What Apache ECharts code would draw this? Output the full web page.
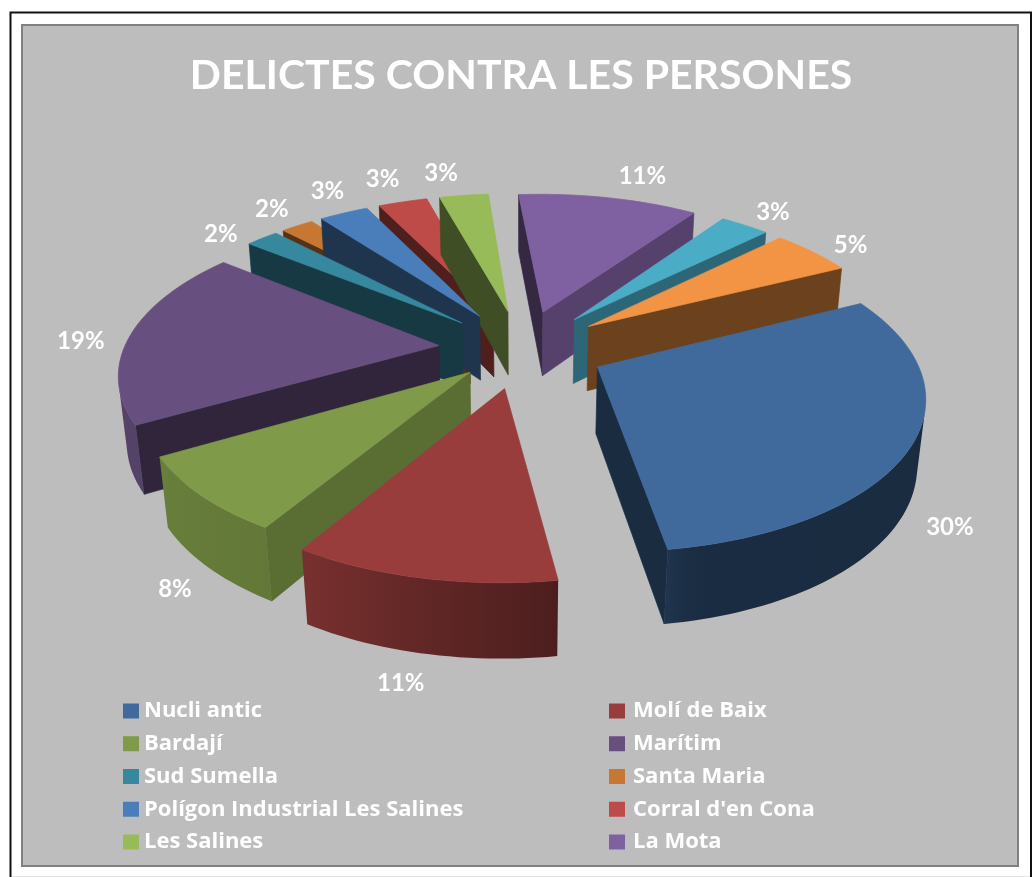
<!DOCTYPE html>
<html><head><meta charset="utf-8">
<style>html,body{margin:0;padding:0;background:#fff}#c{width:1033px;height:877px}</style>
<script src="https://cdn.jsdelivr.net/npm/echarts@6/dist/echarts.min.js"></script>
</head><body><div id="c"></div>
<script>
const titleText = 'DELICTES CONTRA LES PERSONES';
const categories = ['Nucli antic','Molí de Baix','Bardají','Marítim','Sud Sumella','Santa Maria','Polígon Industrial Les Salines',"Corral d'en Cona",'Les Salines','La Mota','',' '];
const values = [30,11,8,19,2,2,3,3,3,11,3,5];
const percentLabels = ['30%','11%','8%','19%','2%','2%','3%','3%','3%','11%','3%','5%'];
const colors = ['#3f6a9b','#983d3b','#7f9a48','#67507f','#36889f','#c87733','#4a7ebb','#be4b48','#98bb59','#7f60a0','#4bacc6','#f39344'];
// how far each slice is pulled out of the pie
const explodeBy = [.265,.265,.225,.265,.265,.265,.265,.265,.265,.265,.265,.265];
// label fine placement, px
const labelNudge = [[-11,24],[-8,3.5],[17,18],[-5,-19.5],[-14,-4.5],[-2,-13.5],[2,-15.5],[-8,-13.5],[-17,-11.5],[25,-11.5],[5,-9.5],[7,-10.5]];

// 3D projection of an exploded pie
const firstAngle = 63.7, thick = 0.24;
const cx = 522, cy = 348.5, P = 315, tilt = 28*Math.PI/180, D = 5.43;
const sinT = Math.sin(tilt), cosT = Math.cos(tilt);
function proj(X,Y,Z){
  const yc = Y*sinT + Z*cosT, zc = Y*cosT - Z*sinT, s = P*D/(D+zc);
  return [cx + X*s, cy - yc*s];
}
function rgbScale(hex,f){
  const n=parseInt(hex.slice(1),16);
  const c=[(n>>16)&255,(n>>8)&255,n&255].map(v=>Math.round(v*f));
  return 'rgb('+c.join(',')+')';
}
function lerpTable(t,a){
  if(a<=t[0][0])return t[0][1];
  for(let i=1;i<t.length;i++){ if(a<=t[i][0]){const k=(a-t[i-1][0])/(t[i][0]-t[i-1][0]);return t[i-1][1]+k*(t[i][1]-t[i-1][1]);}}
  return t[t.length-1][1];
}
const outerShade=[[60,.40],[168,.42],[172,.5],[210,.78],[240,.82],[300,.87],[360,.87]];
const cutShade=[[0,.45],[120,.72],[135,.6],[153,.44],[218,.42],[360,.4]];
const total = values.reduce((a,b)=>a+b,0);
const rad=d=>d*Math.PI/180;
function area(p){let s=0;for(let i=0;i<p.length;i++){const a=p[i],b=p[(i+1)%p.length];s+=a[0]*b[1]-b[0]*a[1];}return s/2;}

let cum=0;
const slices=values.map((v,i)=>{const a0=firstAngle+cum/total*360;cum+=v;return {i,a0,a1:firstAngle+cum/total*360};});

function renderSlice(idx){
  return function(params,api){
    const sl=slices[idx],color=colors[idx];
    const sweep=api.value(0)/total*360, a0=sl.a0, a1=a0+sweep, mid=(a0+a1)/2;
    const ox=explodeBy[idx]*Math.sin(rad(mid)), oy=explodeBy[idx]*Math.cos(rad(mid));
    const pt=(a,r,z)=>proj(ox+r*Math.sin(rad(a)),oy+r*Math.cos(rad(a)),z);
    const children=[];
    const poly=(pts,fill)=>children.push({type:'polygon',shape:{points:pts},style:{fill,stroke:fill,lineWidth:0.7}});
    // radial cut faces
    [[a0,a0-90,-1],[a1,a1+90,1]].forEach(([a,n,dir])=>{
      const q=[pt(a,0,0),pt(a,1,0),pt(a,1,-thick),pt(a,0,-thick)];
      if(area(q)*dir>0) poly(q,rgbScale(color,lerpTable(cutShade,((n%360)+360)%360)));
    });
    // outer wall: one polygon over the visible part of the arc, shaded left to right
    const steps=Math.max(2,Math.ceil(sweep/1.5));
    const tops=[],bots=[],angs=[];
    for(let k=0;k<steps;k++){
      const b0=a0+sweep*k/steps,b1=a0+sweep*(k+1)/steps;
      const q=[pt(b0,1,0),pt(b1,1,0),pt(b1,1,-thick),pt(b0,1,-thick)];
      if(area(q)<0){
        if(!tops.length){tops.push(q[0]);bots.push(q[3]);angs.push(b0);}
        tops.push(q[1]);bots.push(q[2]);angs.push(b1);
      }
    }
    if(tops.length){
      const xs=tops.map(p=>p[0]),xa=Math.min(...xs),xb=Math.max(...xs);
      const stops=tops.map((p,i)=>({offset:xb>xa?(p[0]-xa)/(xb-xa):0,color:rgbScale(color,lerpTable(outerShade,(angs[i]%360+360)%360))}))
        .sort((m,n)=>m.offset-n.offset);
      const grad=new echarts.graphic.LinearGradient(xa,0,xb,0,stops,true);
      children.push({type:'polygon',shape:{points:tops.concat(bots.slice().reverse())},style:{fill:grad}});
    }
    // top face
    const top=[pt(a0,0,0)];
    for(let k=0;k<=steps;k++) top.push(pt(a0+sweep*k/steps,1,0));
    poly(top,color);
    return {type:'group',children};
  };
}
// percentage labels are drawn by a separate series so that they stay above every slice
function renderLabel(params,api){
  const idx=api.value(0),sl=slices[idx],mid=(sl.a0+sl.a1)/2,e=explodeBy[idx];
  const r=e+1.16,c=Math.cos(rad(mid));
  const L=proj(r*Math.sin(rad(mid)),r*c,-0.11+0.09*c);
  return {type:'text',style:{text:percentLabels[idx],x:L[0]+labelNudge[idx][0],y:L[1]+labelNudge[idx][1],fill:'#fff',align:'center',verticalAlign:'middle',font:'bold 24px Lato'}};
}
const depthOf=s=>Math.cos(rad((s.a0+s.a1)/2));
const series=slices.map(s=>({
  type:'custom',name:categories[s.i]||('_'+s.i),coordinateSystem:'none',
  z:Math.round(10-depthOf(s)*5),silent:true,
  itemStyle:{color:colors[s.i]},
  renderItem:renderSlice(s.i),data:[[values[s.i]]]
}));
series.push({type:'custom',name:'_labels',coordinateSystem:'none',z:30,silent:true,renderItem:renderLabel,data:values.map((v,i)=>[i])});
const legendBase={orient:'vertical',top:695,height:175,icon:'rect',itemWidth:16,itemHeight:15,itemGap:10.75,selectedMode:false};
const legendText=(left)=>({color:'#fff',fontFamily:'Open Sans',fontWeight:'bold',fontSize:22,padding:[10,0,0,left]});
const chart=echarts.init(document.getElementById('c'),null,{renderer:'canvas'});
chart.setOption({
  animation:false,backgroundColor:'#fff',
  title:{text:titleText,left:516,top:50,textAlign:'center',textStyle:{color:'#fff',fontFamily:'Lato',fontWeight:'bold',fontSize:41}},
  graphic:[
    {type:'rect',z:-1,shape:{x:10.5,y:12.5,width:1020.5,height:880},style:{fill:'#fff',stroke:'#111',lineWidth:2}},
    {type:'line',z:-1,shape:{x1:12,y1:876.5,x2:1030,y2:876.5},style:{stroke:'#e4e4e4',lineWidth:1}},
    {type:'rect',z:-1,shape:{x:22,y:25,width:996,height:841},style:{fill:'#bdbdbd',stroke:'#808080',lineWidth:2}}
  ],
  legend:[
    Object.assign({},legendBase,{left:118,textStyle:legendText(0),data:[0,2,4,6,8].map(i=>categories[i])}),
    Object.assign({},legendBase,{left:604,textStyle:legendText(3),data:[1,3,5,7,9].map(i=>categories[i])})
  ],
  series
});
</script></body></html>
